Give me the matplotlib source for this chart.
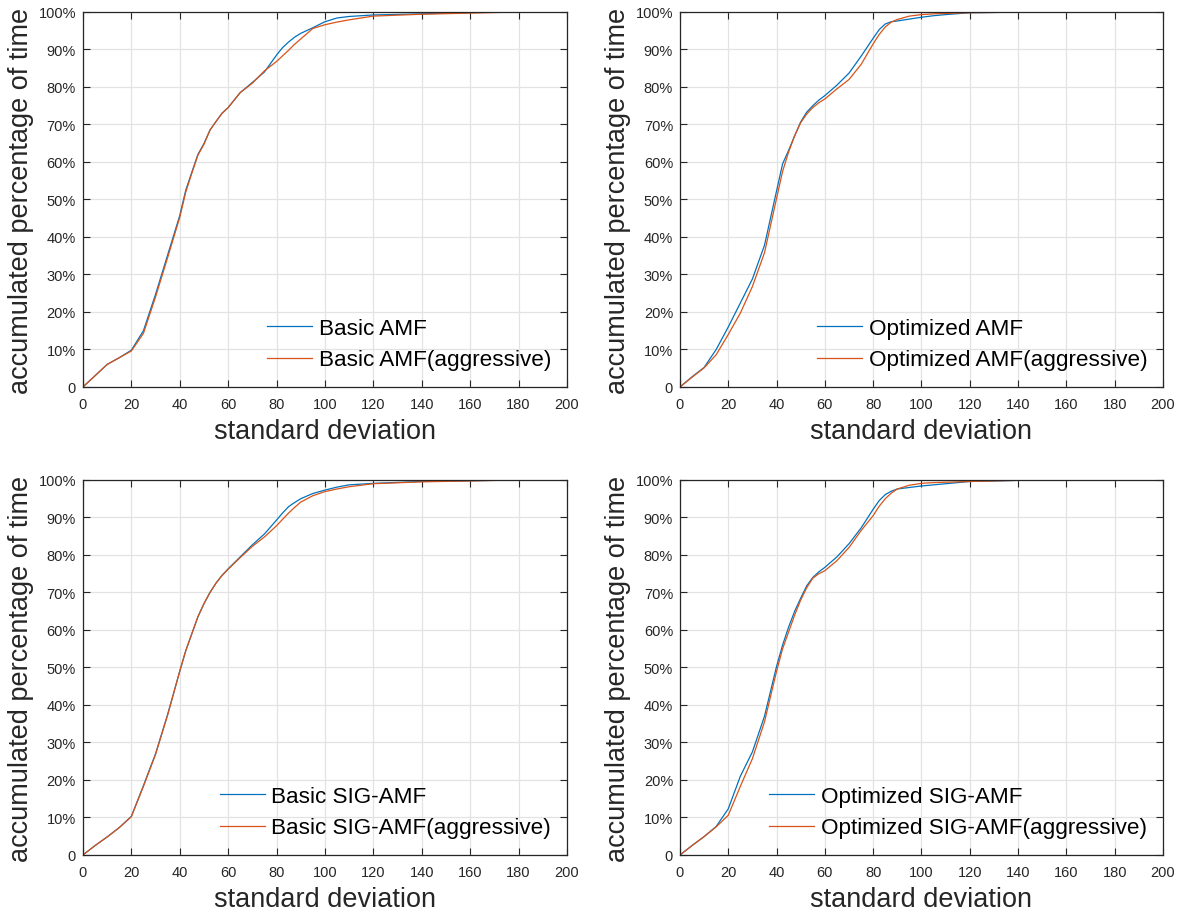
import matplotlib
matplotlib.use('Agg')
import matplotlib.pyplot as plt
from matplotlib.ticker import FixedLocator, FixedFormatter

plt.rcParams['font.family'] = ['Liberation Sans', 'DejaVu Sans']

# standard deviation sample points (shared by all curves)
std_x = [0, 5, 10, 15, 20, 25, 30, 35, 40, 42.5, 45, 47.5, 50, 52.5, 55, 57.5,
         60, 65, 70, 75, 80, 82.5, 85, 87.5, 90, 95, 100, 105, 110, 120, 140,
         160, 180]

# accumulated percentage of time (%)
basic_amf = [0, 3, 6, 7.8, 9.8, 15, 24.7, 35.2, 45.7, 52.5, 57.3, 62, 64.9,
             68.5, 70.8, 73, 74.5, 78.5, 81.2, 84, 88.5, 90.5, 92, 93.3, 94.3,
             95.8, 97.4, 98.4, 98.8, 99.2, 99.5, 99.85, 100]
basic_amf_agg = [0, 3, 6, 7.8, 9.6, 14.3, 24, 34.5, 45.2, 52, 57, 61.8, 64.7,
                 68.5, 70.8, 73, 74.5, 78.5, 81, 84.3, 86.8, 88.3, 89.8, 91.4,
                 92.8, 95.6, 96.6, 97.3, 97.9, 98.9, 99.4, 99.7, 100]

opt_amf = [0, 2.7, 5.2, 10, 16, 22.4, 28.8, 37.8, 52.3, 59.5, 63.1, 67, 70.7,
           73.3, 75, 76.5, 77.7, 80.5, 83.7, 88.2, 93, 95.3, 96.8, 97.4, 97.6,
           98.1, 98.6, 99, 99.3, 99.8, 99.95, 100, 100]
opt_amf_agg = [0, 2.6, 5.1, 8.6, 14, 19.7, 26.8, 35.8, 50.3, 57.5, 62.7, 67,
               70.5, 72.8, 74.5, 75.8, 76.8, 79.5, 82, 86, 91.5, 94, 96, 97.3,
               98, 98.9, 99.3, 99.5, 99.6, 99.8, 99.95, 100, 100]

basic_sig = [0, 2.5, 4.8, 7.3, 10.3, 18.5, 27, 37.5, 49, 54.5, 59, 63.5, 67,
             70, 72.5, 74.6, 76.3, 79.5, 82.7, 85.6, 89.3, 91.2, 92.9, 94, 95,
             96.4, 97.3, 98.1, 98.7, 99.1, 99.6, 99.8, 100]
basic_sig_agg = [0, 2.5, 4.8, 7.3, 10.2, 18.3, 26.8, 37.3, 49, 54.5, 59, 63.5,
                 67, 70, 72.5, 74.5, 76.2, 79.3, 82.3, 84.8, 87.8, 89.5, 91.2,
                 92.7, 94.1, 95.8, 96.9, 97.6, 98.2, 99, 99.5, 99.75, 100]

opt_sig = [0, 2.5, 4.9, 7.6, 12.3, 21, 27.5, 37, 50.3, 56, 60.8, 65, 68.5,
           71.8, 74, 75.5, 76.7, 79.5, 83, 87.2, 92.2, 94.5, 96.1, 97, 97.6,
           98, 98.4, 98.7, 99, 99.6, 99.9, 100, 100]
opt_sig_agg = [0, 2.5, 4.9, 7.5, 10.6, 18.3, 25.7, 35.5, 49, 55, 59.5, 64, 68,
               71.3, 73.8, 75, 75.8, 78.5, 82, 86.5, 90.5, 93, 95, 96.5, 97.6,
               98.6, 99.1, 99.3, 99.4, 99.6, 99.9, 100, 100]

panels = [
    (basic_amf, basic_amf_agg, 'Basic AMF', 'Basic AMF(aggressive)'),
    (opt_amf, opt_amf_agg, 'Optimized AMF', 'Optimized AMF(aggressive)'),
    (basic_sig, basic_sig_agg, 'Basic SIG-AMF', 'Basic SIG-AMF(aggressive)'),
    (opt_sig, opt_sig_agg, 'Optimized SIG-AMF', 'Optimized SIG-AMF(aggressive)'),
]

xticks = list(range(0, 201, 20))
yticks = list(range(0, 101, 10))
ylabels = ['0'] + ['{}%'.format(v) for v in yticks[1:]]

blue = '#0072BD'
orange = '#D95319'
dark = '#262626'

fig = plt.figure(figsize=(11.9, 9.2), dpi=100)
positions = [
    [0.0697, 0.5783, 0.4067, 0.4076],
    [0.5714, 0.5783, 0.4059, 0.4076],
    [0.0697, 0.0696, 0.4067, 0.4076],
    [0.5714, 0.0696, 0.4059, 0.4076],
]

for pos, (y1, y2, lab1, lab2) in zip(positions, panels):
    ax = fig.add_axes(pos)
    ax.plot(std_x, y1, color=blue, lw=0.9, label=lab1)
    ax.plot(std_x, y2, color=orange, lw=0.9, label=lab2)
    ax.set_xlim(0, 200)
    ax.set_ylim(0, 100)
    ax.xaxis.set_major_locator(FixedLocator(xticks))
    ax.yaxis.set_major_locator(FixedLocator(yticks))
    ax.yaxis.set_major_formatter(FixedFormatter(ylabels))
    ax.grid(True, color='#e3e3e3', lw=0.9)
    ax.set_axisbelow(True)
    ax.tick_params(direction='in', top=True, right=True, length=5, width=0.8,
                   color=dark, labelcolor=dark, labelsize=10.5)
    ax.tick_params(axis='x', pad=7)
    ax.tick_params(axis='y', pad=5)
    for sp in ax.spines.values():
        sp.set_color(dark)
        sp.set_linewidth(0.9)
    ax.set_xlabel('standard deviation', fontsize=19.5, color=dark, labelpad=5)
    ax.set_ylabel('accumulated percentage of time', fontsize=19.5, color=dark,
                  labelpad=3)
    ax.legend(loc='lower right', bbox_to_anchor=(0.986, 0.02), frameon=False,
              fontsize=16.2, handlelength=2.0, handletextpad=0.3,
              labelspacing=0.45, borderaxespad=0)

fig.savefig('out.png', dpi=100)
